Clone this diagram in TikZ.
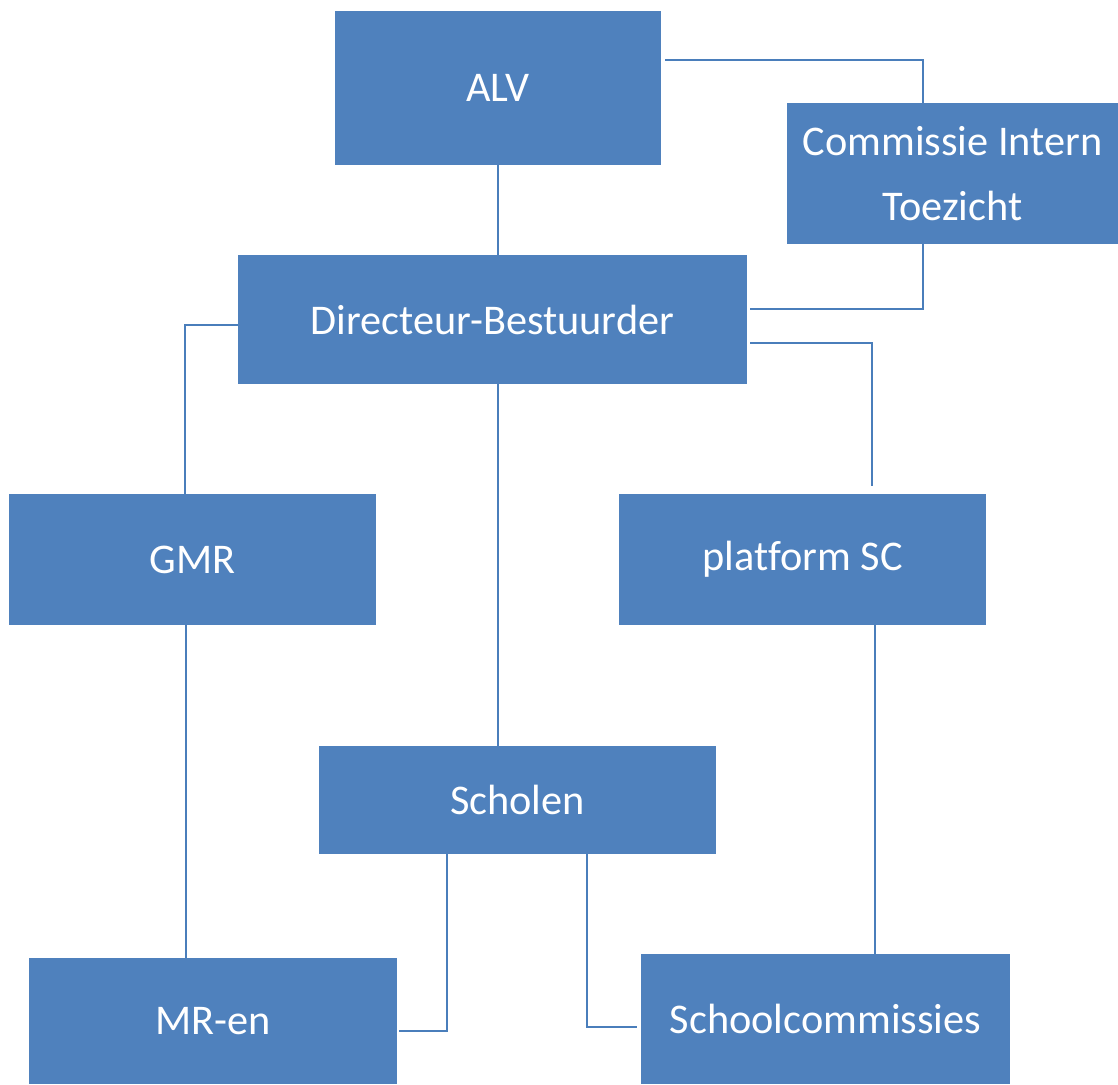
\documentclass[tikz,border=0pt]{standalone}
\usepackage{fontspec}
\setmainfont[Ligatures=NoCommon]{Carlito}
\definecolor{boxblue}{HTML}{4F81BD}
\definecolor{lineblue}{HTML}{4A7EBB}
\begin{document}
\begin{tikzpicture}[x=1pt,y=-1pt,
  box/.style={fill=boxblue, draw=none, inner sep=0pt, text=white,
    font=\fontsize{42.3}{65}\selectfont, align=center},
  conn/.style={draw=lineblue, line width=2pt}]
\useasboundingbox (0,0) rectangle (1118,1084);
\node[box, minimum width=326pt, minimum height=154pt] (alv) at (498,88) {ALV};
\node[box, minimum width=331pt, minimum height=141pt] (cit) at (952.5,173.5) {Commissie Intern\\Toezicht};
\node[box, minimum width=509pt, minimum height=129pt] (dir) at (492.5,319.5) {Directeur-Bestuurder};
\node[box, minimum width=367pt, minimum height=131pt] (gmr) at (192.5,559.5) {GMR};
\node[box, minimum width=367pt, minimum height=131pt] (psc) at (802.5,559.5) {platform SC};
\node[box, minimum width=397pt, minimum height=108pt] (sch) at (517.5,800) {Scholen};
\node[box, minimum width=368pt, minimum height=126pt] (mr) at (213,1021) {MR-en};
\node[box, minimum width=369pt, minimum height=130pt] (sc) at (825.5,1019) {Schoolcommissies};

\draw[conn] ([shift={(4,-28)}]alv.east) -| ([xshift=-29.5pt]cit.north);
\draw[conn] (alv.south) -- (alv.south |- dir.north);
\draw[conn] ([xshift=-29.5pt]cit.south) |- ([shift={(3,-10.5)}]dir.east);
\draw[conn] ([shift={(0,5.5)}]dir.west) -| ([xshift=-7.5pt]gmr.north);
\draw[conn] ([shift={(3,23.5)}]dir.east) -| ([shift={(69.5,-8)}]psc.north);
\draw[conn] ([xshift=5.5pt]dir.south) -- ([xshift=5.5pt]dir.south |- sch.north);
\draw[conn] ([xshift=-6.5pt]gmr.south) -- ([xshift=-6.5pt]gmr.south |- mr.north);
\draw[conn] ([xshift=72.5pt]psc.south) -- ([xshift=72.5pt]psc.south |- sc.north);
\draw[conn] ([xshift=-70.5pt]sch.south) |- ([shift={(2,10)}]mr.east);
\draw[conn] ([xshift=69.5pt]sch.south) |- ([shift={(-4,8)}]sc.west);
\end{tikzpicture}
\end{document}
